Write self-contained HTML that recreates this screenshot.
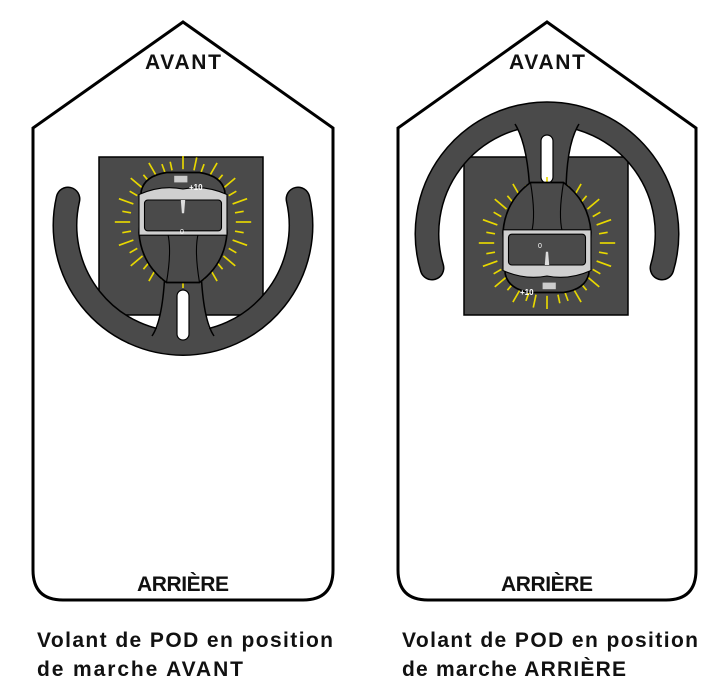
<!DOCTYPE html>
<html><head><style>body{margin:0;background:#fff}svg{display:block}</style></head><body>
<svg width="720" height="699" viewBox="0 0 720 699" xmlns="http://www.w3.org/2000/svg" font-family="Liberation Sans, sans-serif">
<defs>
<g id="rays" stroke="#e8d800" stroke-width="1.5">
<line x1="0" y1="-48" x2="0" y2="-60"/>
<line x1="0" y1="-48" x2="0" y2="-60" transform="rotate(12)"/>
<line x1="0" y1="-48" x2="0" y2="-56" transform="rotate(20)"/>
<line x1="0" y1="-48" x2="0" y2="-62" transform="rotate(30)"/>
<line x1="0" y1="-48" x2="0" y2="-56" transform="rotate(40)"/>
<line x1="0" y1="-48" x2="0" y2="-62" transform="rotate(50)"/>
<line x1="0" y1="-48" x2="0" y2="-56" transform="rotate(60)"/>
<line x1="0" y1="-48" x2="0" y2="-62" transform="rotate(70)"/>
<line x1="0" y1="-48" x2="0" y2="-56" transform="rotate(80)"/>
<line x1="0" y1="-48" x2="0" y2="-62" transform="rotate(90)"/>
<line x1="0" y1="-48" x2="0" y2="-56" transform="rotate(100)"/>
<line x1="0" y1="-48" x2="0" y2="-62" transform="rotate(110)"/>
<line x1="0" y1="-48" x2="0" y2="-56" transform="rotate(120)"/>
<line x1="0" y1="-48" x2="0" y2="-62" transform="rotate(130)"/>
<line x1="0" y1="-48" x2="0" y2="-56" transform="rotate(140)"/>
<line x1="0" y1="-48" x2="0" y2="-62" transform="rotate(150)"/>
<line x1="0" y1="-48" x2="0" y2="-56" transform="rotate(160)"/>
<line x1="0" y1="-48" x2="0" y2="-60" transform="rotate(180)"/>
<line x1="0" y1="-48" x2="0" y2="-56" transform="rotate(-20)"/>
<line x1="0" y1="-48" x2="0" y2="-62" transform="rotate(-30)"/>
<line x1="0" y1="-48" x2="0" y2="-56" transform="rotate(-40)"/>
<line x1="0" y1="-48" x2="0" y2="-62" transform="rotate(-50)"/>
<line x1="0" y1="-48" x2="0" y2="-56" transform="rotate(-60)"/>
<line x1="0" y1="-48" x2="0" y2="-62" transform="rotate(-70)"/>
<line x1="0" y1="-48" x2="0" y2="-56" transform="rotate(-80)"/>
<line x1="0" y1="-48" x2="0" y2="-62" transform="rotate(-90)"/>
<line x1="0" y1="-48" x2="0" y2="-56" transform="rotate(-100)"/>
<line x1="0" y1="-48" x2="0" y2="-62" transform="rotate(-110)"/>
<line x1="0" y1="-48" x2="0" y2="-56" transform="rotate(-120)"/>
<line x1="0" y1="-48" x2="0" y2="-62" transform="rotate(-130)"/>
<line x1="0" y1="-48" x2="0" y2="-56" transform="rotate(-140)"/>
<line x1="0" y1="-48" x2="0" y2="-62" transform="rotate(-150)"/>
<line x1="0" y1="-48" x2="0" y2="-56" transform="rotate(-160)"/>
<line x1="0" y1="-48" x2="0" y2="-56" transform="rotate(-12)"/>
</g>
<g id="pod">
<use href="#rays"/>
<path d="M-38,-28 Q-35,-42 -15,-45 L15,-45 Q35,-42 38,-28 L40,10 Q38,38 15,55 L-15,55 Q-38,38 -40,10 Z" fill="#4a4a4a" stroke="#000" stroke-width="1.5"/>
<path d="M-15,55 Q-10,25 -14,10 M15,55 Q10,25 14,10" fill="none" stroke="#000" stroke-width="1"/>
<path d="M-40,-25 Q-20,-34 0,-30 Q20,-34 40,-25 L40,12 L-40,12 Z" fill="#d0d0d0" stroke="#000" stroke-width="1"/>
<rect x="-35" y="-20" width="70" height="28" rx="3" fill="#4a4a4a" stroke="#000" stroke-width="1"/>
<rect x="-8" y="-42" width="12" height="6" fill="#ccc"/>
<path d="M-2,-20 L2,-20 L1,-8 L-1,-8 Z" fill="#ddd"/>
</g>
</defs>

<path d="M183,22 L333,128 L333,570 Q333,600 303,600 L63,600 Q33,600 33,570 L33,128 Z" fill="#fff" stroke="#000" stroke-width="3"/>
<path d="M547,22 L696,128 L696,570 Q696,600 666,600 L428,600 Q398,600 398,570 L398,128 Z" fill="#fff" stroke="#000" stroke-width="3"/>

<!-- LEFT -->
<rect x="99" y="157" width="164" height="158" fill="#4a4a4a" stroke="#000" stroke-width="1.5"/>
<path d="M68,199 A118,118 0 1 0 298,199" fill="none" stroke="#000" stroke-width="25" stroke-linecap="round"/>
<path d="M68,199 A118,118 0 1 0 298,199" fill="none" stroke="#4a4a4a" stroke-width="22" stroke-linecap="round"/>
<path d="M165,270 L201,270 Q203,320 214,340 L152,340 Q163,320 165,270 Z" fill="#4a4a4a"/>
<path d="M165,270 Q163,320 152,336 M201,270 Q203,320 214,336" fill="none" stroke="#000" stroke-width="1.5"/>
<rect x="177" y="290" width="12" height="50" rx="6" fill="#fff" stroke="#000" stroke-width="1.2"/>
<g transform="translate(183,222) scale(1.1)"><use href="#pod"/></g>
<text x="189" y="190" font-size="8" fill="#fff" font-weight="bold">+10</text>
<text x="180" y="234" font-size="7" fill="#fff">0</text>

<!-- RIGHT -->
<rect x="464" y="157" width="164" height="158" fill="#4a4a4a" stroke="#000" stroke-width="1.5"/>
<path d="M432,268 A120,120 0 1 1 662,268" fill="none" stroke="#000" stroke-width="25" stroke-linecap="round"/>
<path d="M432,268 A120,120 0 1 1 662,268" fill="none" stroke="#4a4a4a" stroke-width="22" stroke-linecap="round"/>
<path d="M530,195 L566,195 Q566,145 580,120 L514,120 Q528,145 530,195 Z" fill="#4a4a4a"/>
<path d="M530,195 Q528,145 515,124 M566,195 Q566,145 579,124" fill="none" stroke="#000" stroke-width="1.5"/>
<rect x="541" y="135" width="12" height="48" rx="6" fill="#fff" stroke="#000" stroke-width="1.2"/>
<g transform="translate(547,243) rotate(180) scale(1.1)"><use href="#pod"/></g>
<text x="520" y="295" font-size="8" fill="#fff" font-weight="bold">+10</text>
<text x="538" y="248" font-size="7" fill="#fff">0</text>

<g font-weight="bold" font-size="21" text-anchor="middle" fill="#111">
<text x="183" y="69" textLength="76">AVANT</text>
<text x="547" y="69" textLength="76">AVANT</text>
<text x="183" y="591" textLength="92">ARRIÈRE</text>
<text x="547" y="591" textLength="92">ARRIÈRE</text>
</g>
<g font-weight="bold" font-size="21" fill="#111">
<text x="37" y="647" textLength="296">Volant de POD en position</text>
<text x="37" y="676" textLength="206">de marche AVANT</text>
<text x="402" y="647" textLength="296">Volant de POD en position</text>
<text x="402" y="676" textLength="224">de marche ARRIÈRE</text>
</g>
</svg>
</body></html>
